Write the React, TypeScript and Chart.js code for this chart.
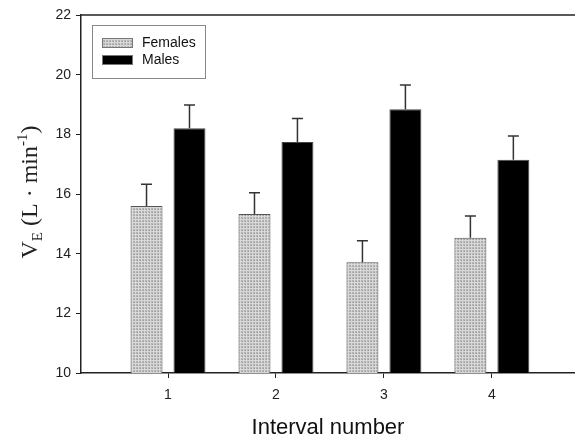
import React, { useEffect, useRef } from "react";
import { Chart, registerables } from "chart.js";

Chart.register(...registerables);

const categories = [1, 2, 3, 4];
const tickLabels = ["1", "2", "3", "4"];
const femalesMean = [15.6, 15.33, 13.71, 14.53];
const femalesErr = [0.73, 0.71, 0.72, 0.73];
const malesMean = [18.2, 17.74, 18.84, 17.15];
const malesErr = [0.78, 0.79, 0.81, 0.79];
const yTicks = [10, 12, 14, 16, 18, 20, 22];

function makePattern(): CanvasPattern | string {
  const c = document.createElement("canvas");
  c.width = 3;
  c.height = 3;
  const g = c.getContext("2d");
  if (!g) return "#c0c0c0";
  g.fillStyle = "#b4b4b4";
  g.fillRect(0, 0, 3, 3);
  g.fillStyle = "#d8d8d8";
  g.fillRect(0, 0, 3, 1);
  g.fillRect(0, 0, 1, 3);
  g.fillStyle = "#9c9c9c";
  g.fillRect(2, 2, 1, 1);
  const p = g.createPattern(c, "repeat");
  return p || "#c0c0c0";
}

const errorBarPlugin = {
  id: "errorBars",
  afterDatasetsDraw(chart: any) {
    const ctx = chart.ctx;
    const errs = [femalesErr, malesErr];
    chart.data.datasets.forEach((ds: any, di: number) => {
      const meta = chart.getDatasetMeta(di);
      const yScale = chart.scales.y;
      meta.data.forEach((bar: any, i: number) => {
        const v = ds.data[i].y;
        const yTop = yScale.getPixelForValue(v + errs[di][i]);
        const yBar = yScale.getPixelForValue(v);
        ctx.save();
        ctx.strokeStyle = "#333";
        ctx.lineWidth = 1.5;
        ctx.beginPath();
        ctx.moveTo(bar.x, yBar);
        ctx.lineTo(bar.x, yTop);
        ctx.moveTo(bar.x - 5.5, yTop);
        ctx.lineTo(bar.x + 5.5, yTop);
        ctx.stroke();
        ctx.restore();
      });
    });
  },
};

const decorPlugin = {
  id: "decor",
  afterDraw(chart: any) {
    const ctx = chart.ctx;
    const ca = chart.chartArea;
    ctx.save();
    // top border
    ctx.strokeStyle = "#222";
    ctx.lineWidth = 1.5;
    ctx.beginPath();
    ctx.moveTo(ca.left, ca.top);
    ctx.lineTo(chart.width, ca.top);
    ctx.stroke();

    // legend
    ctx.strokeStyle = "#888";
    ctx.lineWidth = 1;
    ctx.strokeRect(92.5, 25.5, 113, 53);
    const ys = [38, 55];
    chart.data.datasets.forEach((ds: any, i: number) => {
      ctx.fillStyle = ds.backgroundColor;
      ctx.fillRect(102, ys[i], 31, 10);
      ctx.strokeStyle = "#777";
      ctx.strokeRect(102.5, ys[i] + 0.5, 30, 9);
      ctx.fillStyle = "#111";
      ctx.font = "14px 'Liberation Sans', Arial, sans-serif";
      ctx.textBaseline = "middle";
      ctx.textAlign = "left";
      ctx.fillText(ds.label, 142, ys[i] + 5);
    });

    // x title
    ctx.fillStyle = "#111";
    ctx.font = "22px 'Liberation Sans', Arial, sans-serif";
    ctx.textAlign = "center";
    ctx.textBaseline = "alphabetic";
    ctx.fillText("Interval number", (ca.left + chart.width) / 2, 434);

    // y title with sub/superscript
    ctx.fillStyle = "#222";
    const big = "24px 'Liberation Serif', 'Times New Roman', serif";
    const small = "15px 'Liberation Serif', 'Times New Roman', serif";
    const parts: [string, string, number][] = [
      ["V", big, 0],
      ["E", small, 5],
      [" (L · min", big, 0],
      ["-1", small, -10],
      [")", big, 0],
    ];
    let total = 0;
    parts.forEach(([t, f]) => {
      ctx.font = f;
      total += ctx.measureText(t).width;
    });
    ctx.translate(37, 192);
    ctx.rotate(-Math.PI / 2);
    ctx.textAlign = "left";
    let x = -total / 2;
    parts.forEach(([t, f, dy]) => {
      ctx.font = f;
      ctx.fillText(t, x, dy);
      x += ctx.measureText(t).width;
    });
    ctx.restore();
  },
};

export default function App() {
  const ref = useRef<HTMLCanvasElement | null>(null);
  useEffect(() => {
    if (!ref.current) return;
    const pattern = makePattern();
    const chart = new Chart(ref.current, {
      type: "bar",
      data: {
        datasets: [
          {
            label: "Females",
            data: categories.map((c, i) => ({ x: c, y: femalesMean[i] })),
            backgroundColor: pattern as any,
            borderColor: "#555",
            borderWidth: 1,
            borderSkipped: "bottom",
          },
          {
            label: "Males",
            data: categories.map((c, i) => ({ x: c, y: malesMean[i] })),
            backgroundColor: "#000",
            borderColor: "#444",
            borderWidth: 1,
            borderSkipped: "bottom",
          },
        ],
      },
      options: {
        animation: false,
        responsive: true,
        maintainAspectRatio: false,
        layout: { padding: { left: 0, right: 0, top: 15, bottom: 0 } },
        plugins: { legend: { display: false }, tooltip: { enabled: false } },
        datasets: { bar: { categoryPercentage: 0.796, barPercentage: 0.744 } },
        scales: {
          x: {
            type: "linear",
            offset: false,
            min: 0.194,
            max: 4.77,
            afterBuildTicks: (s: any) => {
              s.ticks = categories.map((v) => ({ value: v }));
            },
            afterFit: (s: any) => {
              s.height = 63;
            },
            ticks: {
              callback: (v: any) => tickLabels[categories.indexOf(Number(v))] ?? "",
              color: "#222",
              font: { family: "'Liberation Sans', Arial, sans-serif", size: 14 },
              padding: 9,
              maxRotation: 0,
            },
            grid: { offset: false, drawOnChartArea: false, drawTicks: true, tickLength: 5, color: "#222", lineWidth: 1 },
            border: { display: true, color: "#222", width: 1.5 },
          },
          y: {
            min: 10,
            max: 22,
            afterBuildTicks: (s: any) => {
              s.ticks = yTicks.map((v) => ({ value: v }));
            },
            afterFit: (s: any) => {
              s.width = 81;
            },
            ticks: {
              color: "#222",
              font: { family: "'Liberation Sans', Arial, sans-serif", size: 14 },
              padding: 5,
            },
            grid: { drawOnChartArea: false, drawTicks: true, tickLength: 5, color: "#222", lineWidth: 1 },
            border: { display: true, color: "#222", width: 1.5 },
          },
        },
      } as any,
      plugins: [errorBarPlugin, decorPlugin],
    });
    return () => chart.destroy();
  }, []);
  return (
    <div style={{ position: "absolute", left: 0, top: 0, width: 575, height: 436, background: "#fff" }}>
      <canvas ref={ref} />
    </div>
  );
}
